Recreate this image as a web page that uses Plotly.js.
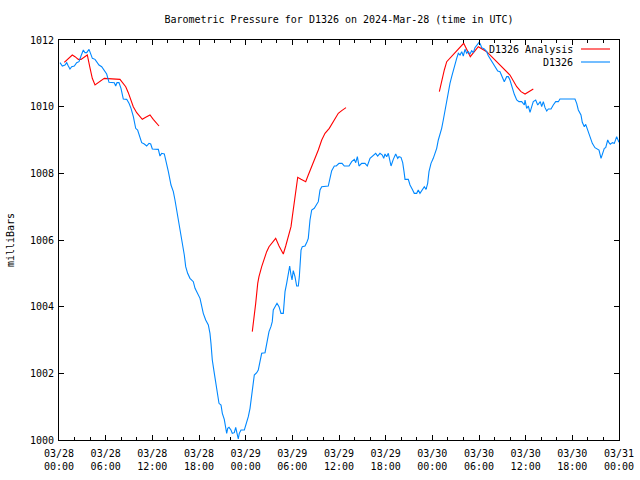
<!DOCTYPE html>
<html>
<head>
<meta charset="utf-8">
<script src="https://cdn.plot.ly/plotly-3.0.1.min.js"></script>
<style>html,body{margin:0;padding:0;background:#fff;}</style>
</head>
<body>
<div id="chart" style="width:640px;height:480px;"></div>
<script>
// Hours after 2024-03-28 00:00 UTC
const startDate = Date.UTC(2024, 2, 28);

const obsHours = [0.13,0.43,0.77,0.99,1.2,1.41,1.63,1.97,2.27,2.57,2.83,3.13,3.34,3.56,3.86,4.11,4.29,4.63,4.84,5.14,5.49,5.83,6.13,6.43,6.77,7.11,7.29,7.46,7.71,7.97,8.27,8.7,9.0,9.26,9.56,9.86,10.11,10.41,10.63,10.97,11.27,11.57,11.79,12.0,12.77,12.98,13.2,13.54,13.84,14.06,14.4,14.7,14.91,15.13,15.43,15.69,15.86,16.11,16.29,16.54,16.84,17.27,17.49,17.83,18.13,18.55,18.86,19.2,19.41,19.54,19.71,19.97,20.15,20.31,20.57,20.83,21.0,21.25,21.43,21.56,21.69,21.86,22.11,22.28,22.54,22.72,22.89,23.05,23.18,23.4,23.83,24.13,24.34,24.56,24.78,24.98,25.11,25.42,25.62,25.84,26.06,26.49,26.7,27.0,27.25,27.42,27.55,27.77,28.03,28.29,28.54,28.84,29.06,29.27,29.48,29.66,29.83,29.96,30.12,30.34,30.56,30.77,30.9,31.12,31.28,31.63,31.89,32.05,32.27,32.49,32.82,33.13,33.34,33.56,33.78,34.62,34.84,35.06,35.4,35.65,36.0,36.39,36.68,37.29,37.63,37.97,38.15,38.36,38.57,38.92,39.34,39.64,39.99,40.28,40.54,40.72,40.97,41.27,41.57,41.75,41.91,42.13,42.34,42.47,42.69,42.98,43.29,43.55,43.71,43.97,44.19,44.36,44.49,44.91,45.13,45.42,45.68,45.99,46.19,46.41,46.71,46.97,47.19,47.4,47.57,47.83,48.12,48.34,48.56,48.77,48.99,49.2,49.41,49.63,49.85,50.05,50.27,50.49,50.7,50.91,51.13,51.34,51.56,51.78,51.98,52.2,52.42,52.62,52.84,53.06,53.27,53.48,53.83,54.0,54.17,54.35,54.68,54.99,55.2,55.54,55.84,56.15,56.41,56.7,57.0,57.25,57.56,57.77,57.98,58.2,58.54,58.85,59.14,59.49,59.83,59.92,60.13,60.34,60.56,60.78,60.98,61.29,61.55,61.71,61.88,62.06,62.27,62.49,62.71,62.91,63.26,63.55,63.86,64.2,64.41,66.34,66.56,66.77,67.11,67.28,67.54,67.72,67.97,68.14,68.31,68.57,68.91,69.26,69.43,69.69,69.86,70.11,70.29,70.55,70.71,70.88,71.14,71.4,71.7,71.91,72.0];
const obsPressure = [1011.32,1011.22,1011.25,1011.32,1011.22,1011.13,1011.2,1011.22,1011.32,1011.35,1011.52,1011.7,1011.62,1011.62,1011.72,1011.55,1011.45,1011.42,1011.35,1011.25,1011.2,1011.1,1010.98,1010.73,1010.73,1010.72,1010.62,1010.72,1010.72,1010.55,1010.23,1010.22,1010.1,1009.95,1009.7,1009.35,1009.3,1009.1,1008.92,1008.88,1008.82,1008.9,1008.88,1008.73,1008.72,1008.52,1008.6,1008.58,1008.3,1008.05,1007.65,1007.45,1007.2,1006.9,1006.55,1006.25,1005.9,1005.55,1005.2,1005.0,1004.85,1004.75,1004.55,1004.4,1004.25,1003.8,1003.6,1003.45,1003.2,1002.9,1002.4,1002.0,1001.7,1001.4,1001.1,1001.05,1000.8,1000.62,1000.4,1000.2,1000.35,1000.38,1000.3,1000.2,1000.22,1000.38,1000.2,1000.03,1000.2,1000.3,1000.3,1000.5,1000.7,1000.95,1001.3,1001.7,1001.95,1002.02,1002.1,1002.35,1002.6,1002.62,1002.9,1003.25,1003.4,1003.55,1003.9,1004.0,1004.1,1004.0,1003.8,1003.8,1004.45,1004.7,1005.0,1005.22,1004.95,1004.8,1005.08,1004.9,1004.62,1004.62,1004.9,1005.7,1005.8,1005.82,1005.95,1006.05,1006.6,1006.9,1006.95,1007.05,1007.15,1007.5,1007.6,1007.62,1007.9,1008.08,1008.22,1008.22,1008.3,1008.3,1008.22,1008.22,1008.35,1008.42,1008.32,1008.5,1008.22,1008.3,1008.3,1008.22,1008.45,1008.5,1008.55,1008.6,1008.52,1008.6,1008.55,1008.45,1008.58,1008.5,1008.6,1008.45,1008.22,1008.42,1008.58,1008.45,1008.5,1008.48,1008.32,1008.05,1007.82,1007.82,1007.65,1007.52,1007.4,1007.4,1007.5,1007.4,1007.52,1007.6,1007.52,1007.7,1008.05,1008.3,1008.45,1008.6,1008.75,1009.0,1009.15,1009.35,1009.6,1009.9,1010.2,1010.45,1010.7,1010.9,1011.1,1011.3,1011.45,1011.6,1011.55,1011.65,1011.52,1011.72,1011.6,1011.65,1011.58,1011.68,1011.62,1011.77,1011.9,1011.93,1011.88,1011.77,1011.73,1011.65,1011.53,1011.4,1011.27,1011.17,1011.07,1011.05,1010.9,1010.75,1010.9,1010.9,1010.8,1010.6,1010.37,1010.2,1010.15,1010.15,1010.05,1010.2,1009.95,1010.02,1009.83,1010.0,1010.15,1010.2,1010.05,1010.1,1010.15,1010.0,1010.15,1009.97,1009.87,1009.93,1009.93,1010.05,1010.15,1010.15,1010.23,1010.23,1010.1,1009.9,1009.75,1009.53,1009.4,1009.47,1009.3,1009.17,1009.1,1008.9,1008.77,1008.73,1008.7,1008.45,1008.55,1008.75,1008.77,1009.0,1008.92,1008.87,1008.92,1008.9,1009.1,1008.98,1008.93];

// Analysis series (null = gap between analysis runs)
const anaHours = [0.68,1.12,1.41,1.71,2.06,2.48,2.83,3.25,3.64,3.95,4.28,4.63,5.05,5.49,5.82,7.84,8.27,8.58,8.91,9.26,9.55,9.99,10.41,10.71,11.15,11.7,12.12,12.56,12.86,
  18.0,
  24.85,25.03,25.29,25.55,25.71,26.06,26.4,26.7,27.0,27.42,27.86,28.29,28.84,29.15,29.48,29.83,30.0,30.25,30.43,30.69,31.12,31.72,32.05,32.49,32.91,33.34,33.78,34.2,34.75,35.27,35.91,36.35,36.9,
  42.0,
  48.9,49.2,49.54,49.85,50.27,50.82,51.43,52.03,52.46,52.88,53.4,53.91,54.99,56.48,57.98,58.85,59.4,59.92,60.56,60.98];
const anaPressure = [1011.33,1011.42,1011.48,1011.55,1011.5,1011.42,1011.42,1011.48,1011.55,1011.2,1010.85,1010.65,1010.72,1010.8,1010.85,1010.82,1010.7,1010.6,1010.42,1010.2,1010.0,1009.82,1009.7,1009.62,1009.68,1009.75,1009.62,1009.5,1009.42,
  null,
  1003.25,1003.55,1004.1,1004.7,1004.9,1005.2,1005.45,1005.65,1005.8,1005.92,1006.05,1005.82,1005.58,1005.82,1006.1,1006.4,1006.7,1007.1,1007.45,1007.88,1007.82,1007.75,1007.95,1008.2,1008.45,1008.7,1009.0,1009.2,1009.35,1009.55,1009.8,1009.88,1009.97,
  null,
  1010.45,1010.8,1011.1,1011.35,1011.45,1011.6,1011.75,1011.9,1011.7,1011.5,1011.65,1011.8,1011.65,1011.3,1010.95,1010.6,1010.45,1010.38,1010.47,1010.53];

const yTicks = [1000,1002,1004,1006,1008,1010,1012];
const seriesNames = ['D1326 Analysis', 'D1326'];
const seriesColors = ['#ff0000', '#0088ff'];

function toDate(h) {
  const d = new Date(startDate + Math.round(h * 3600000));
  return d.toISOString().slice(0, 19).replace('T', ' ');
}

const MONO = 'DejaVu Sans Mono, Liberation Mono, monospace';
const H = 3600000;

const traces = [
  {x: anaHours.map(toDate), y: anaPressure, type: 'scatter', mode: 'lines', name: seriesNames[0],
   line: {color: seriesColors[0], width: 1.1}, connectgaps: false, showlegend: false},
  {x: obsHours.map(toDate), y: obsPressure, type: 'scatter', mode: 'lines', name: seriesNames[1],
   line: {color: seriesColors[1], width: 1.1, shape: 'linear'}, showlegend: false}
];

const axisCommon = {
  showline: true, linecolor: '#000', linewidth: 1, mirror: 'allticks',
  ticks: 'inside', ticklen: 5, tickcolor: '#000', tickwidth: 1,
  showgrid: false, zeroline: false, fixedrange: true,
  tickfont: {family: MONO, size: 10, color: '#000'}
};

const layout = {
  width: 640, height: 480,
  margin: {l: 59, r: 21, t: 40, b: 40},
  paper_bgcolor: '#fff', plot_bgcolor: '#fff',
  font: {family: MONO, size: 10, color: '#000'},
  title: {text: 'Barometric Pressure for D1326 on 2024-Mar-28 (time in UTC)',
          font: {family: MONO, size: 10, color: '#000'},
          x: 0.5, xref: 'paper', xanchor: 'center', y: 1 - 19/480, yref: 'container', yanchor: 'middle'},
  xaxis: Object.assign({}, axisCommon, {
    type: 'date',
    range: [toDate(0), toDate(72)],
    tick0: toDate(0), dtick: 6 * H,
    tickformat: '%m/%d<br>%H:%M',
    ticklabelstandoff: 4,
    minor: {dtick: 2 * H, ticks: 'inside', ticklen: 3, tickcolor: '#000', showgrid: false}
  }),
  yaxis: Object.assign({}, axisCommon, {
    range: [1000, 1012],
    tickvals: yTicks,
    ticktext: yTicks.map(String),
    ticklabelstandoff: 2,
    title: {text: 'milliBars', font: {family: MONO, size: 10, color: '#000'}, standoff: 13}
  }),
  showlegend: false,
  annotations: [
    {xref: 'paper', yref: 'paper', x: (575 - 59) / 560, y: (440 - 49.5) / 400, xanchor: 'right', yanchor: 'middle',
     text: seriesNames[0], showarrow: false, font: {family: MONO, size: 10, color: '#000'}},
    {xref: 'paper', yref: 'paper', x: (575 - 59) / 560, y: (440 - 62.5) / 400, xanchor: 'right', yanchor: 'middle',
     text: seriesNames[1], showarrow: false, font: {family: MONO, size: 10, color: '#000'}}
  ],
  shapes: [
    {type: 'line', xref: 'paper', yref: 'paper', x0: (581 - 59) / 560, x1: (610 - 59) / 560,
     y0: (440 - 49) / 400, y1: (440 - 49) / 400, line: {color: seriesColors[0], width: 1.1}},
    {type: 'line', xref: 'paper', yref: 'paper', x0: (581 - 59) / 560, x1: (610 - 59) / 560,
     y0: (440 - 62) / 400, y1: (440 - 62) / 400, line: {color: seriesColors[1], width: 1.1}}
  ]
};

Plotly.newPlot('chart', traces, layout, {staticPlot: true, displayModeBar: false});
</script>
</body>
</html>
